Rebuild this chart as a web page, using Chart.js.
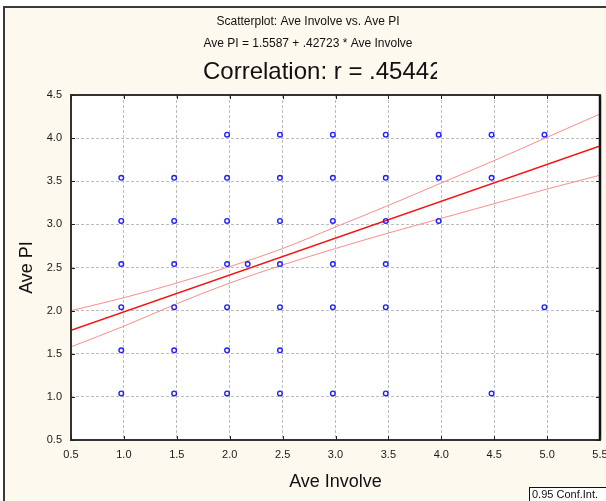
<!DOCTYPE html>
<html>
<head>
<meta charset="utf-8">
<title>Scatterplot: Ave Involve vs. Ave PI</title>
<script src="https://cdn.jsdelivr.net/npm/chart.js@4/dist/chart.umd.min.js"></script>
<style>
  html, body { margin: 0; padding: 0; background: #ffffff; }
  canvas { display: block; }
</style>
</head>
<body>
<canvas id="chart" width="606" height="501"></canvas>
<script>
// Observed responses (Ave Involve, Ave PI)
const involveValues = [
  1.975, 2.475, 2.975, 3.475, 3.975, 4.475, 4.975,
  0.975, 1.475, 1.975, 2.475, 2.975, 3.475, 3.975, 4.475,
  0.975, 1.475, 1.975, 2.475, 2.975, 3.475, 3.975,
  0.975, 1.475, 1.975, 2.17, 2.475, 2.975, 3.475,
  0.975, 1.475, 1.975, 2.475, 2.975, 3.475, 4.975,
  0.975, 1.475, 1.975, 2.475,
  0.975, 1.475, 1.975, 2.475, 2.975, 3.475, 4.475
];
const piValues = [
  4.04, 4.04, 4.04, 4.04, 4.04, 4.04, 4.04,
  3.54, 3.54, 3.54, 3.54, 3.54, 3.54, 3.54, 3.54,
  3.04, 3.04, 3.04, 3.04, 3.04, 3.04, 3.04,
  2.54, 2.54, 2.54, 2.54, 2.54, 2.54, 2.54,
  2.04, 2.04, 2.04, 2.04, 2.04, 2.04, 2.04,
  1.54, 1.54, 1.54, 1.54,
  1.04, 1.04, 1.04, 1.04, 1.04, 1.04, 1.04
];

// Fitted line: Ave PI = 1.5587 + .42723 * Ave Involve
const intercept = 1.5587;
const slope = 0.42723;
const lineEnds = [0.5, 5.5];

// 0.95 confidence band around the fitted line
const bandX     = [0.5, 1.0, 1.5, 2.0, 2.5, 3.0, 3.5, 4.0, 4.5, 5.0, 5.5];
const bandUpper = [2.00, 2.15, 2.32, 2.51, 2.72, 2.97, 3.22, 3.48, 3.74, 4.01, 4.28];
const bandLower = [1.58, 1.82, 2.08, 2.32, 2.53, 2.72, 2.90, 3.07, 3.24, 3.41, 3.57];

// Axis ticks
const xTicks = [0.5, 1.0, 1.5, 2.0, 2.5, 3.0, 3.5, 4.0, 4.5, 5.0, 5.5];
const yTicks = [0.5, 1.0, 1.5, 2.0, 2.5, 3.0, 3.5, 4.0, 4.5];

// Text
const titleLine1 = 'Scatterplot: Ave Involve vs. Ave PI';
const titleLine2 = 'Ave PI = 1.5587 + .42723 * Ave Involve';
const titleLine3 = 'Correlation: r = .45442';
const xAxisTitle = 'Ave Involve';
const yAxisTitle = 'Ave PI';
const bandLabel = '0.95 Conf.Int.';

const FONT = "'Liberation Sans', Arial, sans-serif";
const CREAM = '#fef9ee';

const scatterData = involveValues.map((x, i) => ({ x: x, y: piValues[i] }));
const fitData = lineEnds.map(x => ({ x: x, y: intercept + slope * x }));
const upperData = bandX.map((x, i) => ({ x: x, y: bandUpper[i] }));
const lowerData = bandX.map((x, i) => ({ x: x, y: bandLower[i] }));

const panelPlugin = {
  id: 'panel',
  beforeDraw(chart) {
    const { ctx, chartArea: a, width, height } = chart;
    ctx.save();
    ctx.fillStyle = '#ffffff';
    ctx.fillRect(0, 0, width, height);
    ctx.fillStyle = CREAM;
    ctx.fillRect(4, 7, width - 4, height - 7);
    // outer frame (top and left edges)
    ctx.strokeStyle = '#3a3a3a';
    ctx.lineWidth = 2;
    ctx.beginPath();
    ctx.moveTo(4, height);
    ctx.lineTo(4, 7);
    ctx.lineTo(width, 7);
    ctx.stroke();
    // plot panel
    ctx.fillStyle = '#ffffff';
    ctx.fillRect(a.left, a.top, a.right - a.left, a.bottom - a.top);
    ctx.restore();
  },
  afterDraw(chart) {
    const { ctx, chartArea: a, scales } = chart;
    ctx.save();
    // panel border
    ctx.strokeStyle = '#333333';
    ctx.lineWidth = 2;
    ctx.strokeRect(a.left, a.top, a.right - a.left, a.bottom - a.top);
    ctx.strokeStyle = '#111111';
    ctx.lineWidth = 2.5;
    ctx.beginPath();
    ctx.moveTo(a.right, a.top);
    ctx.lineTo(a.right, a.bottom);
    ctx.stroke();

    // inward tick marks on all four sides
    ctx.strokeStyle = '#222222';
    ctx.lineWidth = 1;
    ctx.beginPath();
    xTicks.forEach(v => {
      const px = Math.round(scales.x.getPixelForValue(v)) + 0.5;
      ctx.moveTo(px, a.top); ctx.lineTo(px, a.top + 4);
      ctx.moveTo(px, a.bottom); ctx.lineTo(px, a.bottom - 4);
    });
    yTicks.forEach(v => {
      const py = Math.round(scales.y.getPixelForValue(v)) + 0.5;
      ctx.moveTo(a.left, py); ctx.lineTo(a.left + 4, py);
      ctx.moveTo(a.right, py); ctx.lineTo(a.right - 4, py);
    });
    ctx.stroke();

    // titles
    const cx = 308;
    ctx.fillStyle = '#111111';
    ctx.textAlign = 'center';
    ctx.textBaseline = 'middle';
    ctx.font = '12px ' + FONT;
    ctx.fillText(titleLine1, cx, 22);
    ctx.fillText(titleLine2, cx, 44);
    ctx.save();
    ctx.beginPath();
    ctx.rect(0, 50, 437, 40);
    ctx.clip();
    ctx.font = '24px ' + FONT;
    ctx.textAlign = 'left';
    ctx.fillText(titleLine3, 203, 72);
    ctx.restore();

    // axis titles
    ctx.font = '18px ' + FONT;
    ctx.textAlign = 'center';
    ctx.fillText(xAxisTitle, (a.left + a.right) / 2, 482);
    ctx.save();
    ctx.translate(27, (a.top + a.bottom) / 2);
    ctx.rotate(-Math.PI / 2);
    ctx.fillText(yAxisTitle, 0, 0);
    ctx.restore();

    // confidence band label box
    ctx.fillStyle = '#ffffff';
    ctx.fillRect(529.5, 487.5, 80, 16);
    ctx.strokeStyle = '#111111';
    ctx.lineWidth = 1;
    ctx.strokeRect(529.5, 487.5, 80, 16);
    ctx.fillStyle = '#111111';
    ctx.font = '11px ' + FONT;
    ctx.textAlign = 'left';
    ctx.fillText(bandLabel, 532, 495);
    ctx.restore();
  }
};

new Chart(document.getElementById('chart'), {
  type: 'scatter',
  data: {
    datasets: [
      {
        label: 'Observations',
        data: scatterData,
        pointStyle: 'circle',
        pointRadius: 2.3,
        pointBorderWidth: 1.4,
        borderColor: '#1f1fff',
        backgroundColor: 'rgba(0,0,0,0)',
        order: 0
      },
      {
        label: 'Fit',
        type: 'line',
        data: fitData,
        borderColor: '#ff1010',
        borderWidth: 1.4,
        pointRadius: 0,
        fill: false,
        order: 1
      },
      {
        label: 'Upper 0.95',
        type: 'line',
        data: upperData,
        borderColor: '#ff8c8c',
        borderWidth: 1,
        pointRadius: 0,
        cubicInterpolationMode: 'monotone',
        fill: false,
        order: 2
      },
      {
        label: 'Lower 0.95',
        type: 'line',
        data: lowerData,
        borderColor: '#ff8c8c',
        borderWidth: 1,
        pointRadius: 0,
        cubicInterpolationMode: 'monotone',
        fill: false,
        order: 2
      }
    ]
  },
  options: {
    responsive: false,
    animation: false,
    devicePixelRatio: 1,
    layout: { padding: { top: 95, right: 6, left: 0, bottom: 0 } },
    plugins: {
      legend: { display: false },
      tooltip: { enabled: false },
      title: { display: false }
    },
    scales: {
      x: {
        type: 'linear',
        min: 0.5,
        max: 5.5,
        afterBuildTicks: s => { s.ticks = xTicks.map(v => ({ value: v })); },
        afterFit: s => { s.height = 61; s.paddingLeft = 0; s.paddingRight = 0; },
        grid: { color: '#bdbdbd', lineWidth: 1, drawTicks: false },
        border: { display: false, dash: [3, 2] },
        ticks: {
          padding: 8,
          color: '#1a1a1a',
          font: { family: FONT, size: 11 },
          callback: v => Number(v).toFixed(1)
        }
      },
      y: {
        type: 'linear',
        min: 0.5,
        max: 4.5,
        afterBuildTicks: s => { s.ticks = yTicks.map(v => ({ value: v })); },
        afterFit: s => { s.width = 71; s.paddingTop = 0; s.paddingBottom = 0; },
        grid: { color: '#bdbdbd', lineWidth: 1, drawTicks: false },
        border: { display: false, dash: [3, 2] },
        ticks: {
          padding: 9,
          color: '#1a1a1a',
          font: { family: FONT, size: 11 },
          callback: v => Number(v).toFixed(1)
        }
      }
    }
  },
  plugins: [panelPlugin]
});
</script>
</body>
</html>
